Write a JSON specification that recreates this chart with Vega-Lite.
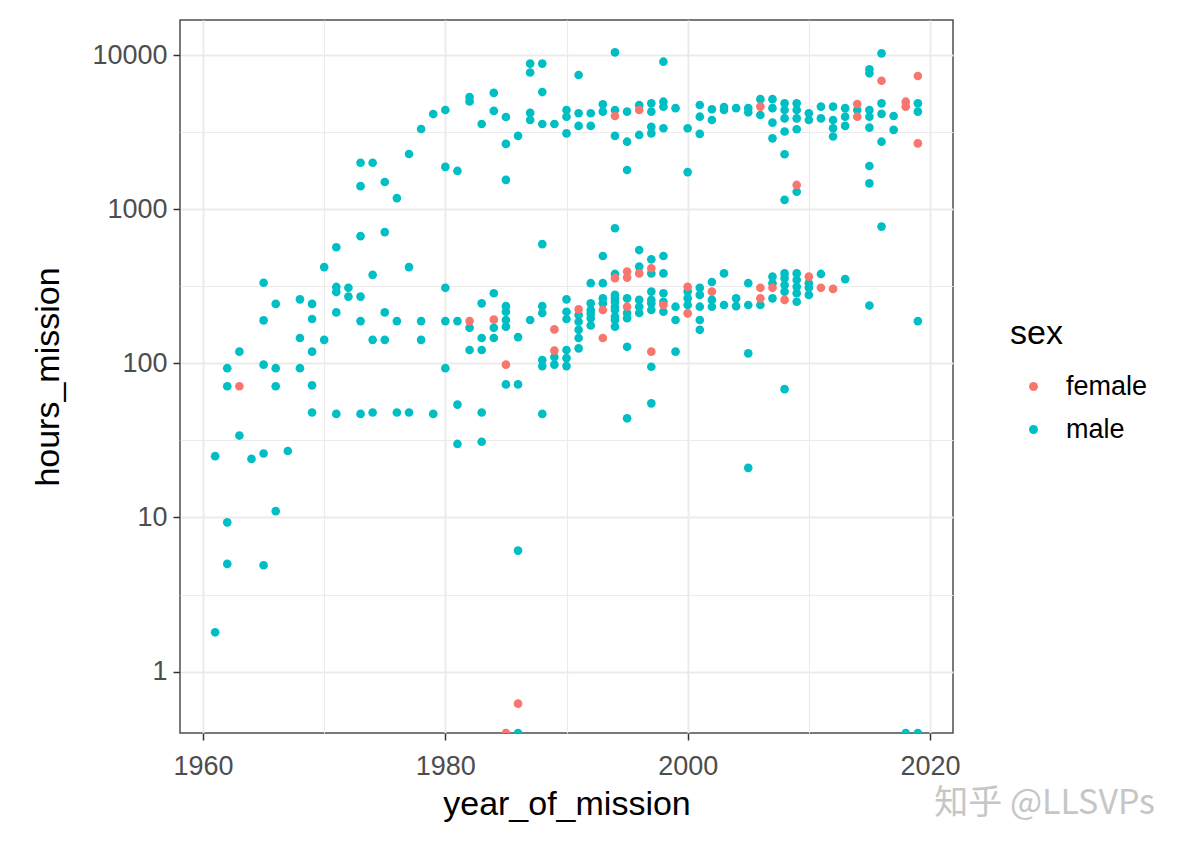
{
  "$schema": "https://vega.github.io/schema/vega-lite/v6.json",
  "width": 773,
  "height": 713,
  "autosize": {"type": "none"},
  "padding": {"left": 180, "top": 20, "right": 231, "bottom": 113},
  "background": "white",
  "config": {
    "font": "Liberation Sans",
    "view": {"stroke": "#4d4d4d", "strokeWidth": 1.5},
    "axis": {
      "domain": false,
      "grid": true,
      "gridColor": "#EBEBEB",
      "labelColor": "#4D4D4D",
      "labelFontSize": 27,
      "titleFontSize": 34,
      "titleFontWeight": "normal",
      "titleColor": "black",
      "tickColor": "#333333",
      "tickSize": 7,
      "tickWidth": 1.5,
      "labelPadding": 4
    }
  },
  "title": {
    "text": "知乎 @LLSVPs",
    "orient": "bottom",
    "anchor": "end",
    "frame": "group",
    "font": "Noto Sans CJK SC",
    "fontSize": 34,
    "fontWeight": "normal",
    "color": "#c6c6c6",
    "dx": 202,
    "dy": -38
  },
  "data": {
    "values": [
      {"year":1961,"hours":1.8,"sex":"male"},{"year":1961,"hours":25,"sex":"male"},
      {"year":1962,"hours":5,"sex":"male"},{"year":1962,"hours":9.3,"sex":"male"},{"year":1962,"hours":71,"sex":"male"},{"year":1962,"hours":93,"sex":"male"},
      {"year":1963,"hours":34,"sex":"male"},{"year":1963,"hours":119,"sex":"male"},{"year":1963,"hours":71,"sex":"female"},
      {"year":1964,"hours":24,"sex":"male"},
      {"year":1965,"hours":4.9,"sex":"male"},{"year":1965,"hours":26,"sex":"male"},{"year":1965,"hours":98,"sex":"male"},{"year":1965,"hours":190,"sex":"male"},{"year":1965,"hours":333,"sex":"male"},
      {"year":1966,"hours":11,"sex":"male"},{"year":1966,"hours":71,"sex":"male"},{"year":1966,"hours":93,"sex":"male"},{"year":1966,"hours":243,"sex":"male"},
      {"year":1967,"hours":27,"sex":"male"},
      {"year":1968,"hours":93,"sex":"male"},{"year":1968,"hours":146,"sex":"male"},{"year":1968,"hours":260,"sex":"male"},
      {"year":1969,"hours":48,"sex":"male"},{"year":1969,"hours":72,"sex":"male"},{"year":1969,"hours":119,"sex":"male"},{"year":1969,"hours":194,"sex":"male"},{"year":1969,"hours":243,"sex":"male"},
      {"year":1970,"hours":142,"sex":"male"},{"year":1970,"hours":421,"sex":"male"},
      {"year":1971,"hours":47,"sex":"male"},{"year":1971,"hours":214,"sex":"male"},{"year":1971,"hours":290,"sex":"male"},{"year":1971,"hours":313,"sex":"male"},{"year":1971,"hours":566,"sex":"male"},
      {"year":1972,"hours":271,"sex":"male"},{"year":1972,"hours":309,"sex":"male"},
      {"year":1973,"hours":47,"sex":"male"},{"year":1973,"hours":188,"sex":"male"},{"year":1973,"hours":271,"sex":"male"},{"year":1973,"hours":668,"sex":"male"},{"year":1973,"hours":1410,"sex":"male"},{"year":1973,"hours":2000,"sex":"male"},
      {"year":1974,"hours":48,"sex":"male"},{"year":1974,"hours":142,"sex":"male"},{"year":1974,"hours":375,"sex":"male"},{"year":1974,"hours":2000,"sex":"male"},
      {"year":1975,"hours":142,"sex":"male"},{"year":1975,"hours":214,"sex":"male"},{"year":1975,"hours":710,"sex":"male"},{"year":1975,"hours":1500,"sex":"male"},
      {"year":1976,"hours":48,"sex":"male"},{"year":1976,"hours":188,"sex":"male"},{"year":1976,"hours":1180,"sex":"male"},
      {"year":1977,"hours":48,"sex":"male"},{"year":1977,"hours":421,"sex":"male"},{"year":1977,"hours":2280,"sex":"male"},
      {"year":1978,"hours":142,"sex":"male"},{"year":1978,"hours":188,"sex":"male"},{"year":1978,"hours":3310,"sex":"male"},
      {"year":1979,"hours":47,"sex":"male"},{"year":1979,"hours":4140,"sex":"male"},
      {"year":1980,"hours":93,"sex":"male"},{"year":1980,"hours":188,"sex":"male"},{"year":1980,"hours":309,"sex":"male"},{"year":1980,"hours":1880,"sex":"male"},{"year":1980,"hours":4400,"sex":"male"},
      {"year":1981,"hours":30,"sex":"male"},{"year":1981,"hours":54,"sex":"male"},{"year":1981,"hours":188,"sex":"male"},{"year":1981,"hours":1770,"sex":"male"},
      {"year":1982,"hours":122,"sex":"male"},{"year":1982,"hours":170,"sex":"male"},{"year":1982,"hours":5000,"sex":"male"},{"year":1982,"hours":5340,"sex":"male"},{"year":1982,"hours":188,"sex":"female"},
      {"year":1983,"hours":31,"sex":"male"},{"year":1983,"hours":48,"sex":"male"},{"year":1983,"hours":122,"sex":"male"},{"year":1983,"hours":146,"sex":"male"},{"year":1983,"hours":245,"sex":"male"},{"year":1983,"hours":3570,"sex":"male"},
      {"year":1984,"hours":146,"sex":"male"},{"year":1984,"hours":170,"sex":"male"},{"year":1984,"hours":285,"sex":"male"},{"year":1984,"hours":4340,"sex":"male"},{"year":1984,"hours":5680,"sex":"male"},{"year":1984,"hours":192,"sex":"female"},
      {"year":1985,"hours":73,"sex":"male"},{"year":1985,"hours":173,"sex":"male"},{"year":1985,"hours":191,"sex":"male"},{"year":1985,"hours":216,"sex":"male"},{"year":1985,"hours":235,"sex":"male"},{"year":1985,"hours":1550,"sex":"male"},{"year":1985,"hours":2650,"sex":"male"},{"year":1985,"hours":3960,"sex":"male"},{"year":1985,"hours":0,"sex":"female"},{"year":1985,"hours":98,"sex":"female"},
      {"year":1986,"hours":0,"sex":"male"},{"year":1986,"hours":6.1,"sex":"male"},{"year":1986,"hours":73,"sex":"male"},{"year":1986,"hours":148,"sex":"male"},{"year":1986,"hours":2990,"sex":"male"},{"year":1986,"hours":0.62,"sex":"female"},
      {"year":1987,"hours":191,"sex":"male"},{"year":1987,"hours":3790,"sex":"male"},{"year":1987,"hours":4210,"sex":"male"},{"year":1987,"hours":7700,"sex":"male"},{"year":1987,"hours":8800,"sex":"male"},
      {"year":1988,"hours":47,"sex":"male"},{"year":1988,"hours":96,"sex":"male"},{"year":1988,"hours":105,"sex":"male"},{"year":1988,"hours":212,"sex":"male"},{"year":1988,"hours":235,"sex":"male"},{"year":1988,"hours":593,"sex":"male"},{"year":1988,"hours":3570,"sex":"male"},{"year":1988,"hours":5750,"sex":"male"},{"year":1988,"hours":8800,"sex":"male"},
      {"year":1989,"hours":98,"sex":"male"},{"year":1989,"hours":110,"sex":"male"},{"year":1989,"hours":3570,"sex":"male"},{"year":1989,"hours":121,"sex":"female"},{"year":1989,"hours":166,"sex":"female"},
      {"year":1990,"hours":96,"sex":"male"},{"year":1990,"hours":108,"sex":"male"},{"year":1990,"hours":122,"sex":"male"},{"year":1990,"hours":194,"sex":"male"},{"year":1990,"hours":216,"sex":"male"},{"year":1990,"hours":260,"sex":"male"},{"year":1990,"hours":3100,"sex":"male"},{"year":1990,"hours":3980,"sex":"male"},{"year":1990,"hours":4400,"sex":"male"},
      {"year":1991,"hours":125,"sex":"male"},{"year":1991,"hours":146,"sex":"male"},{"year":1991,"hours":165,"sex":"male"},{"year":1991,"hours":186,"sex":"male"},{"year":1991,"hours":206,"sex":"male"},{"year":1991,"hours":3470,"sex":"male"},{"year":1991,"hours":4190,"sex":"male"},{"year":1991,"hours":7420,"sex":"male"},{"year":1991,"hours":224,"sex":"female"},
      {"year":1992,"hours":176,"sex":"male"},{"year":1992,"hours":196,"sex":"male"},{"year":1992,"hours":210,"sex":"male"},{"year":1992,"hours":222,"sex":"male"},{"year":1992,"hours":245,"sex":"male"},{"year":1992,"hours":331,"sex":"male"},{"year":1992,"hours":3470,"sex":"male"},{"year":1992,"hours":4190,"sex":"male"},
      {"year":1993,"hours":245,"sex":"male"},{"year":1993,"hours":264,"sex":"male"},{"year":1993,"hours":331,"sex":"male"},{"year":1993,"hours":497,"sex":"male"},{"year":1993,"hours":4290,"sex":"male"},{"year":1993,"hours":4790,"sex":"male"},{"year":1993,"hours":146,"sex":"female"},{"year":1993,"hours":222,"sex":"female"},
      {"year":1994,"hours":173,"sex":"male"},{"year":1994,"hours":191,"sex":"male"},{"year":1994,"hours":201,"sex":"male"},{"year":1994,"hours":222,"sex":"male"},{"year":1994,"hours":233,"sex":"male"},{"year":1994,"hours":251,"sex":"male"},{"year":1994,"hours":264,"sex":"male"},{"year":1994,"hours":278,"sex":"male"},{"year":1994,"hours":380,"sex":"male"},{"year":1994,"hours":752,"sex":"male"},{"year":1994,"hours":2990,"sex":"male"},{"year":1994,"hours":4400,"sex":"male"},{"year":1994,"hours":10400,"sex":"male"},{"year":1994,"hours":357,"sex":"female"},{"year":1994,"hours":4020,"sex":"female"},
      {"year":1995,"hours":44,"sex":"male"},{"year":1995,"hours":128,"sex":"male"},{"year":1995,"hours":196,"sex":"male"},{"year":1995,"hours":212,"sex":"male"},{"year":1995,"hours":264,"sex":"male"},{"year":1995,"hours":1796,"sex":"male"},{"year":1995,"hours":2740,"sex":"male"},{"year":1995,"hours":4290,"sex":"male"},{"year":1995,"hours":233,"sex":"female"},{"year":1995,"hours":360,"sex":"female"},{"year":1995,"hours":394,"sex":"female"},
      {"year":1996,"hours":212,"sex":"male"},{"year":1996,"hours":233,"sex":"male"},{"year":1996,"hours":258,"sex":"male"},{"year":1996,"hours":424,"sex":"male"},{"year":1996,"hours":543,"sex":"male"},{"year":1996,"hours":3030,"sex":"male"},{"year":1996,"hours":4730,"sex":"male"},{"year":1996,"hours":383,"sex":"female"},{"year":1996,"hours":4400,"sex":"female"},
      {"year":1997,"hours":55,"sex":"male"},{"year":1997,"hours":95,"sex":"male"},{"year":1997,"hours":222,"sex":"male"},{"year":1997,"hours":245,"sex":"male"},{"year":1997,"hours":258,"sex":"male"},{"year":1997,"hours":292,"sex":"male"},{"year":1997,"hours":383,"sex":"male"},{"year":1997,"hours":473,"sex":"male"},{"year":1997,"hours":3100,"sex":"male"},{"year":1997,"hours":3420,"sex":"male"},{"year":1997,"hours":4290,"sex":"male"},{"year":1997,"hours":4860,"sex":"male"},{"year":1997,"hours":119,"sex":"female"},{"year":1997,"hours":414,"sex":"female"},
      {"year":1998,"hours":216,"sex":"male"},{"year":1998,"hours":251,"sex":"male"},{"year":1998,"hours":285,"sex":"male"},{"year":1998,"hours":383,"sex":"male"},{"year":1998,"hours":497,"sex":"male"},{"year":1998,"hours":3350,"sex":"male"},{"year":1998,"hours":4620,"sex":"male"},{"year":1998,"hours":4980,"sex":"male"},{"year":1998,"hours":9050,"sex":"male"},{"year":1998,"hours":239,"sex":"female"},
      {"year":1999,"hours":119,"sex":"male"},{"year":1999,"hours":191,"sex":"male"},{"year":1999,"hours":233,"sex":"male"},{"year":1999,"hours":4520,"sex":"male"},
      {"year":2000,"hours":239,"sex":"male"},{"year":2000,"hours":264,"sex":"male"},{"year":2000,"hours":292,"sex":"male"},{"year":2000,"hours":1740,"sex":"male"},{"year":2000,"hours":3350,"sex":"male"},{"year":2000,"hours":211,"sex":"female"},{"year":2000,"hours":314,"sex":"female"},
      {"year":2001,"hours":165,"sex":"male"},{"year":2001,"hours":191,"sex":"male"},{"year":2001,"hours":233,"sex":"male"},{"year":2001,"hours":278,"sex":"male"},{"year":2001,"hours":309,"sex":"male"},{"year":2001,"hours":3077,"sex":"male"},{"year":2001,"hours":3980,"sex":"male"},{"year":2001,"hours":4740,"sex":"male"},
      {"year":2002,"hours":233,"sex":"male"},{"year":2002,"hours":258,"sex":"male"},{"year":2002,"hours":337,"sex":"male"},{"year":2002,"hours":3790,"sex":"male"},{"year":2002,"hours":4450,"sex":"male"},{"year":2002,"hours":292,"sex":"female"},
      {"year":2003,"hours":239,"sex":"male"},{"year":2003,"hours":383,"sex":"male"},{"year":2003,"hours":4400,"sex":"male"},{"year":2003,"hours":4600,"sex":"male"},
      {"year":2004,"hours":235,"sex":"male"},{"year":2004,"hours":264,"sex":"male"},{"year":2004,"hours":4520,"sex":"male"},
      {"year":2005,"hours":21,"sex":"male"},{"year":2005,"hours":116,"sex":"male"},{"year":2005,"hours":239,"sex":"male"},{"year":2005,"hours":331,"sex":"male"},{"year":2005,"hours":4250,"sex":"male"},{"year":2005,"hours":4520,"sex":"male"},
      {"year":2006,"hours":239,"sex":"male"},{"year":2006,"hours":4080,"sex":"male"},{"year":2006,"hours":5170,"sex":"male"},{"year":2006,"hours":264,"sex":"female"},{"year":2006,"hours":309,"sex":"female"},{"year":2006,"hours":4630,"sex":"female"},
      {"year":2007,"hours":264,"sex":"male"},{"year":2007,"hours":331,"sex":"male"},{"year":2007,"hours":365,"sex":"male"},{"year":2007,"hours":2880,"sex":"male"},{"year":2007,"hours":3640,"sex":"male"},{"year":2007,"hours":4520,"sex":"male"},{"year":2007,"hours":5170,"sex":"male"},{"year":2007,"hours":309,"sex":"female"},
      {"year":2008,"hours":68,"sex":"male"},{"year":2008,"hours":292,"sex":"male"},{"year":2008,"hours":322,"sex":"male"},{"year":2008,"hours":357,"sex":"male"},{"year":2008,"hours":383,"sex":"male"},{"year":2008,"hours":1150,"sex":"male"},{"year":2008,"hours":2270,"sex":"male"},{"year":2008,"hours":3190,"sex":"male"},{"year":2008,"hours":3880,"sex":"male"},{"year":2008,"hours":4400,"sex":"male"},{"year":2008,"hours":4860,"sex":"male"},{"year":2008,"hours":258,"sex":"female"},
      {"year":2009,"hours":251,"sex":"male"},{"year":2009,"hours":285,"sex":"male"},{"year":2009,"hours":314,"sex":"male"},{"year":2009,"hours":347,"sex":"male"},{"year":2009,"hours":383,"sex":"male"},{"year":2009,"hours":1297,"sex":"male"},{"year":2009,"hours":3300,"sex":"male"},{"year":2009,"hours":3880,"sex":"male"},{"year":2009,"hours":4400,"sex":"male"},{"year":2009,"hours":4860,"sex":"male"},{"year":2009,"hours":1436,"sex":"female"},
      {"year":2010,"hours":278,"sex":"male"},{"year":2010,"hours":309,"sex":"male"},{"year":2010,"hours":331,"sex":"male"},{"year":2010,"hours":3790,"sex":"male"},{"year":2010,"hours":4190,"sex":"male"},{"year":2010,"hours":365,"sex":"female"},
      {"year":2011,"hours":380,"sex":"male"},{"year":2011,"hours":3880,"sex":"male"},{"year":2011,"hours":4630,"sex":"male"},{"year":2011,"hours":309,"sex":"female"},
      {"year":2012,"hours":2960,"sex":"male"},{"year":2012,"hours":3350,"sex":"male"},{"year":2012,"hours":3790,"sex":"male"},{"year":2012,"hours":4630,"sex":"male"},{"year":2012,"hours":304,"sex":"female"},
      {"year":2013,"hours":352,"sex":"male"},{"year":2013,"hours":3470,"sex":"male"},{"year":2013,"hours":3980,"sex":"male"},{"year":2013,"hours":4520,"sex":"male"},
      {"year":2014,"hours":4400,"sex":"male"},{"year":2014,"hours":3980,"sex":"female"},{"year":2014,"hours":4810,"sex":"female"},
      {"year":2015,"hours":237,"sex":"male"},{"year":2015,"hours":1470,"sex":"male"},{"year":2015,"hours":1906,"sex":"male"},{"year":2015,"hours":3380,"sex":"male"},{"year":2015,"hours":3980,"sex":"male"},{"year":2015,"hours":4400,"sex":"male"},{"year":2015,"hours":7610,"sex":"male"},{"year":2015,"hours":8080,"sex":"male"},
      {"year":2016,"hours":771,"sex":"male"},{"year":2016,"hours":2740,"sex":"male"},{"year":2016,"hours":4150,"sex":"male"},{"year":2016,"hours":4860,"sex":"male"},{"year":2016,"hours":10250,"sex":"male"},{"year":2016,"hours":6810,"sex":"female"},
      {"year":2017,"hours":3270,"sex":"male"},{"year":2017,"hours":4020,"sex":"male"},
      {"year":2018,"hours":0,"sex":"male"},{"year":2018,"hours":4630,"sex":"female"},{"year":2018,"hours":4980,"sex":"female"},
      {"year":2019,"hours":0,"sex":"male"},{"year":2019,"hours":188,"sex":"male"},{"year":2019,"hours":4290,"sex":"male"},{"year":2019,"hours":4860,"sex":"male"},{"year":2019,"hours":2670,"sex":"female"},{"year":2019,"hours":7310,"sex":"female"}
    ]
  },
  "mark": {"type": "circle", "size": 75, "opacity": 1, "clip": true, "invalid": "show"},
  "encoding": {
    "x": {
      "field": "year",
      "type": "quantitative",
      "title": "year_of_mission",
      "scale": {"domain": [1958.1, 2021.9], "nice": false, "zero": false},
      "axis": {
        "values": [1960, 1970, 1980, 1990, 2000, 2010, 2020],
        "labelExpr": "datum.value % 20 == 0 ? format(datum.value, 'd') : ''",
        "gridWidth": {"condition": {"test": "datum.value % 20 == 0", "value": 2}, "value": 1.1},
        "tickOpacity": {"condition": {"test": "datum.value % 20 == 0", "value": 1}, "value": 0},
        "labelPadding": 13,
        "titlePadding": 8
      }
    },
    "y": {
      "field": "hours",
      "type": "quantitative",
      "title": "hours_mission",
      "scale": {"type": "log", "domain": [0.4, 16870], "nice": false, "clamp": true},
      "axis": {
        "values": [1, 3.1623, 10, 31.623, 100, 316.23, 1000, 3162.3, 10000],
        "labelExpr": "indexof([1, 10, 100, 1000, 10000], datum.value) >= 0 ? format(datum.value, 'd') : ''",
        "gridWidth": {"condition": {"test": "indexof([1, 10, 100, 1000, 10000], datum.value) >= 0", "value": 2}, "value": 1.1},
        "tickOpacity": {"condition": {"test": "indexof([1, 10, 100, 1000, 10000], datum.value) >= 0", "value": 1}, "value": 0},
        "labelPadding": 6,
        "titlePadding": 26
      }
    },
    "color": {
      "field": "sex",
      "type": "nominal",
      "scale": {"domain": ["female", "male"], "range": ["#F8766D", "#00BFC4"]},
      "legend": {
        "title": "sex",
        "orient": "none",
        "legendX": 830,
        "legendY": 297,
        "titleFontSize": 34,
        "titleFontWeight": "normal",
        "titleColor": "black",
        "labelFontSize": 27,
        "labelColor": "black",
        "symbolType": "circle",
        "symbolSize": 80,
        "symbolOpacity": 1,
        "symbolOffset": 10,
        "labelOffset": 19,
        "rowPadding": 15,
        "titlePadding": 22
      }
    }
  }
}
